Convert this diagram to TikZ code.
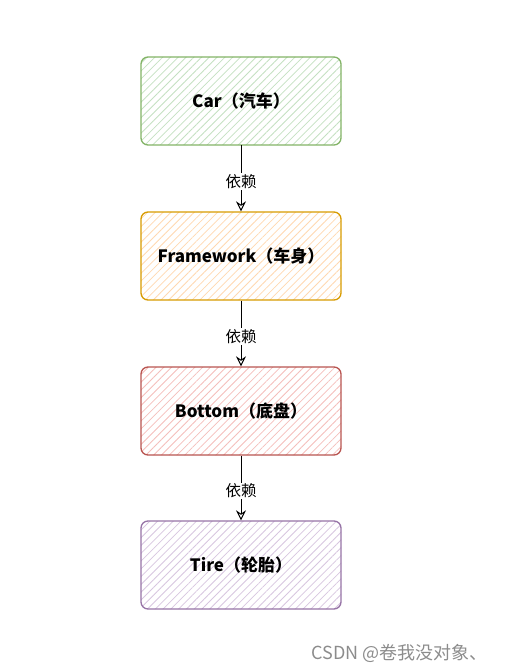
\documentclass[tikz,border=0pt]{standalone}
\usepackage{fontspec}
\setmainfont{Noto Sans CJK SC}
\usetikzlibrary{patterns.meta,arrows.meta}
\definecolor{gstroke}{HTML}{82B366}\definecolor{gfill}{HTML}{C4E0C1}
\definecolor{ostroke}{HTML}{D79B00}\definecolor{ofill}{HTML}{FFD8B0}
\definecolor{rstroke}{HTML}{B85450}\definecolor{rfill}{HTML}{F4BEBB}
\definecolor{pstroke}{HTML}{9673A6}\definecolor{pfill}{HTML}{D7C6DF}
\tikzset{
  box/.style={draw=#1stroke, line width=1.3pt, rounded corners=7pt,
    minimum width=200pt, minimum height=88pt,
    pattern={Lines[angle=45,distance=5.5pt,line width=0.8pt]}, pattern color=#1fill,
    font=\bfseries\fontsize{17pt}{19pt}\selectfont, text=black},
  dep/.style={draw=black, line width=1pt, -{Stealth[open,length=10pt,width=10pt]}},
  deplabel/.style={fill=white, inner sep=1pt, font=\fontsize{15.5pt}{17pt}\selectfont}
}
\begin{document}
\begin{tikzpicture}[x=1pt,y=-1pt]
\useasboundingbox (0,0) rectangle (505,671);
\node[box=g] (car) at (241,101) {Car（汽车）};
\node[box=o] (frame) at (241,256) {Framework（车身）};
\node[box=r] (bottom) at (241,411) {Bottom（底盘）};
\node[box=p] (tire) at (241,565) {Tire（轮胎）};
\draw[dep] (car) -- node[deplabel, yshift=-3pt] {依赖} (frame);
\draw[dep] (frame) -- node[deplabel, yshift=-3pt] {依赖} (bottom);
\draw[dep] (bottom) -- node[deplabel, yshift=-3pt] {依赖} (tire);
\node[text=black!45, font=\fontsize{18pt}{20pt}\selectfont, anchor=east] (wm) at (491,653) {CSDN @卷我没对象、};
\end{tikzpicture}
\end{document}
